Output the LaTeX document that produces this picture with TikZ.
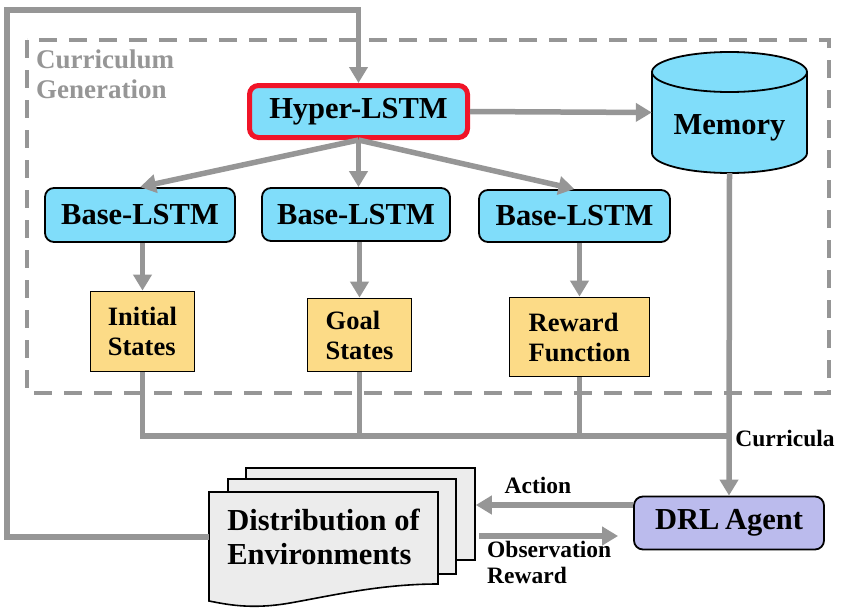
\documentclass[tikz,border=0pt]{standalone}
\usepackage{fontspec}
\newfontfamily\tnrfont{Liberation Serif}
\setmainfont{Liberation Serif}
\usetikzlibrary{arrows.meta}
\definecolor{lblue}{RGB}{128,221,250}
\definecolor{lyellow}{RGB}{252,219,135}
\definecolor{lpurple}{RGB}{187,187,237}
\definecolor{docgray}{RGB}{236,236,236}
\definecolor{lgray}{RGB}{150,150,150}
\definecolor{lred}{RGB}{240,20,40}
\newcommand{\fs}[1]{\tnrfont\fontsize{#1}{#1}\selectfont\bfseries}
\newcommand{\fsl}[2]{\tnrfont\fontsize{#1}{#2}\selectfont\bfseries}
\tikzset{
  conn/.style={draw=lgray, line width=5.5pt},
  arr/.style={conn, -{Triangle[length=16pt,width=18pt]}},
  bluebox/.style={draw=black, line width=1.8pt, fill=lblue, rounded corners=9pt, inner sep=0pt, font=\fs{30.5}},
  ybox/.style={draw=black, line width=1.8pt, fill=lyellow, inner sep=0pt, align=left, font=\fsl{26.5}{30}},
  lbl/.style={inner sep=0pt, font=\fsl{23.5}{26}, align=left},
  page/.style={draw=black, line width=1.6pt, fill=docgray, inner sep=0pt},
}
\begin{document}
\begin{tikzpicture}[x=1pt,y=-1pt]
\useasboundingbox (0,0) rectangle (854,613);
% dashed frame
\draw[lgray, line width=4pt, dash pattern=on 18pt off 12pt] (27,40) rectangle (829,393);
\node[anchor=north west, inner sep=0pt, align=left, text=lgray, font=\fsl{27}{30}] (cg) at (36,50) {Curriculum\\Generation};

% hyper LSTM
\node[bluebox, draw=lred, line width=5pt, minimum width=218pt, minimum height=52pt] (hyper) at (358.5,111.5) {Hyper-LSTM};

% memory cylinder
\fill[lblue] (652,72) -- (652,153) arc (180:360:77.5pt and 20pt) -- (807,72) arc (0:180:77.5pt and 20pt) -- cycle;
\draw[black, line width=1.8pt] (652,72) -- (652,153) arc (180:360:77.5pt and 20pt) -- (807,72) arc (0:180:77.5pt and 20pt) -- cycle;
\draw[black, line width=1.8pt] (652,72) arc (180:360:77.5pt and 20pt);
\node[minimum width=155pt, minimum height=121pt, inner sep=0pt] (memory) at (729.5,112.5) {};
\node[inner sep=0pt, font=\fs{30.5}] (memtext) at (729.5,128) {Memory};

% base LSTMs
\node[bluebox, minimum width=190pt, minimum height=54pt] (b1) at (140,215) {Base-LSTM};
\node[bluebox, minimum width=188pt, minimum height=53pt] (b2) at (356,214.5) {Base-LSTM};
\node[bluebox, minimum width=191pt, minimum height=52pt] (b3) at (574.5,216) {Base-LSTM};

% yellow boxes
\node[ybox, minimum width=104pt, minimum height=80pt] (init) at (142.5,331.5) {Initial\\States};
\node[ybox, minimum width=104pt, minimum height=73pt] (goal) at (359.5,335) {Goal\\States};
\node[ybox, minimum width=140pt, minimum height=79pt] (rew) at (579.5,337) {Reward\\Function};

% DRL agent
\node[bluebox, fill=lpurple, minimum width=190pt, minimum height=53pt] (drl) at (729,523) {DRL\kern-2pt\ Agent};

% environments stack
\node[page, minimum width=229pt, minimum height=92pt] (envback) at (360.5,514) {};
\node[page, minimum width=228pt, minimum height=95pt] (envmid) at (342,526.5) {};
\draw[page] (209,492) -- (438,492) -- (438,584) .. controls (380,584) and (330,596) .. (290,603) .. controls (250,610) and (225,604) .. (209,601) -- cycle;
\node[inner sep=0pt, minimum width=229pt, minimum height=90pt, align=left, font=\fsl{30.5}{34}] (env) at (323.5,537) {Distribution of\\Environments};

% connectors
\draw[arr] (env.west) -- (7,537) -- (7,10) -- (hyper.north |- 0,10) -- (hyper.north);
\draw[arr] (hyper.east) -- (memory.west);
\draw[arr] (hyper.south) -- (b1.north);
\draw[arr] (hyper.south) -- (hyper.south |- b2.north);
\draw[arr] (hyper.south) -- (b3.north);
\draw[arr] (init.north |- b1.south) -- (init.north);
\draw[arr] (goal.north |- b2.south) -- (goal.north);
\draw[arr] (rew.north |- b3.south) -- (rew.north);
\coordinate (junc) at (729,436);
\draw[conn] (init.south) -- (init.south |- junc) -- (junc);
\draw[conn] (goal.south) -- (goal.south |- junc);
\draw[conn] (rew.south) -- (rew.south |- junc);
\draw[arr] (memory.south) -- (drl.north);
\node[lbl] (curr) at (785,438) {Curricula};

\coordinate (actR) at ([yshift=18pt]drl.west);
\coordinate (actL) at (actR -| envback.east);
\draw[arr] (actR) -- (actL);
\node[lbl] (act) at (538,485) {Action};
\coordinate (obsR) at ([yshift=-13pt]drl.west);
\coordinate (obsL) at (obsR -| envback.east);
\draw[arr, shorten <=3pt, shorten >=15pt] (obsL) -- (obsR);
\node[lbl, anchor=north west] (obs) at (487,541) {Observation\\Reward};
\end{tikzpicture}
\end{document}
